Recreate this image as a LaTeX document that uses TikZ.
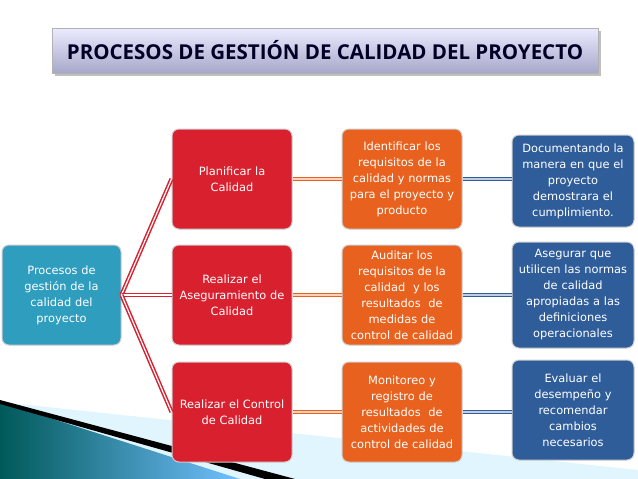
\documentclass[tikz,border=0pt]{standalone}
\usepackage{fontspec}
\setmainfont{DejaVu Sans}
\newfontfamily\titlefont{Open Sans}
\usetikzlibrary{shadows}
\definecolor{teal1}{HTML}{2E9DBE}
\definecolor{red1}{HTML}{D9202E}
\definecolor{ora1}{HTML}{E8611E}
\definecolor{blu1}{HTML}{2F5D9A}
\begin{document}
\begin{tikzpicture}[x=1pt,y=-1pt,
  box/.style={draw=white!80!black,line width=1pt,rounded corners=7pt,text=white,align=center,font=\fontsize{11.4}{16}\selectfont,inner sep=0pt,minimum height=100pt},
  redb/.style={box,fill=red1,minimum width=120pt,text width=120pt},
  orab/.style={box,fill=ora1,minimum width=118pt,text width=120pt},
  blub/.style={box,fill=blu1,minimum width=120pt,text width=122pt},
  dbl/.style={double distance=1.2pt,line width=1.5pt}]
\useasboundingbox (0,0) rectangle (638,479);
\fill[white] (0,0) rectangle (638,479);
% swoosh
\fill[cyan!12] (0,402) -- (638,470) -- (638,479) -- (0,479) -- cycle;
\shade[left color=teal!70!black,right color=cyan!55!blue!55] (0,402) -- (240,479) -- (0,479) -- cycle;
\fill[black] (0,400) -- (295,479) -- (265,479) -- (0,404) -- cycle;
% title
\node[draw=gray!60,drop shadow,top color=white!92!blue,bottom color=blue!25!gray!55,minimum width=546pt,minimum height=45pt,font=\titlefont\bfseries\fontsize{20.5}{22}\selectfont,text=black!85!blue] (title) at (325,50.5) {PROCESOS DE GESTIÓN DE CALIDAD DEL PROYECTO};
\node[box,fill=teal1,minimum width=119pt,text width=119pt] (root) at (61.5,295) {Procesos de\\gestión de la\\calidad del\\proyecto};
\node[redb] (r1) at (232,179) {Planificar la\\Calidad};
\node[redb] (r2) at (232,295) {Realizar el\\Aseguramiento de\\Calidad};
\node[redb] (r3) at (232,412) {Realizar el Control\\de Calidad};
\node[orab] (o1) at (402,179) {Identificar los\\requisitos de la\\calidad y normas\\para el proyecto y\\producto};
\node[orab] (o2) at (402,295) {Auditar los\\requisitos de la\\calidad\ \ y los\\resultados\ \ de\\medidas de\\control de calidad};
\node[orab] (o3) at (402,412) {Monitoreo y\\registro de\\resultados\ \ de\\actividades de\\control de calidad};
\node[blub,minimum height=92pt] (b1) at (573,181) {Documentando la\\manera en que el\\proyecto\\demostrara el\\cumplimiento.};
\node[blub,minimum height=106pt] (b2) at (573,295) {Asegurar que\\utilicen las normas\\de calidad\\apropiadas a las\\definiciones\\operacionales};
\node[blub] (b3) at (573,410) {Evaluar el\\desempeño y\\recomendar\\cambios\\necesarios};
\foreach \r in {r1,r2,r3}{\draw[dbl,draw=red1,double=white] (root.east) -- (\r.west);}
\foreach \a/\b in {r1/o1,r2/o2,r3/o3}{\draw[dbl,draw=ora1,double=white!70!ora1] (\a.east) -- (\b.west);}
\foreach \a/\b in {o1/b1,o2/b2,o3/b3}{\draw[dbl,draw=blu1,double=white!70!blu1] (\a.east|-\a) -- (\b.west|-\a);}
\end{tikzpicture}
\end{document}
